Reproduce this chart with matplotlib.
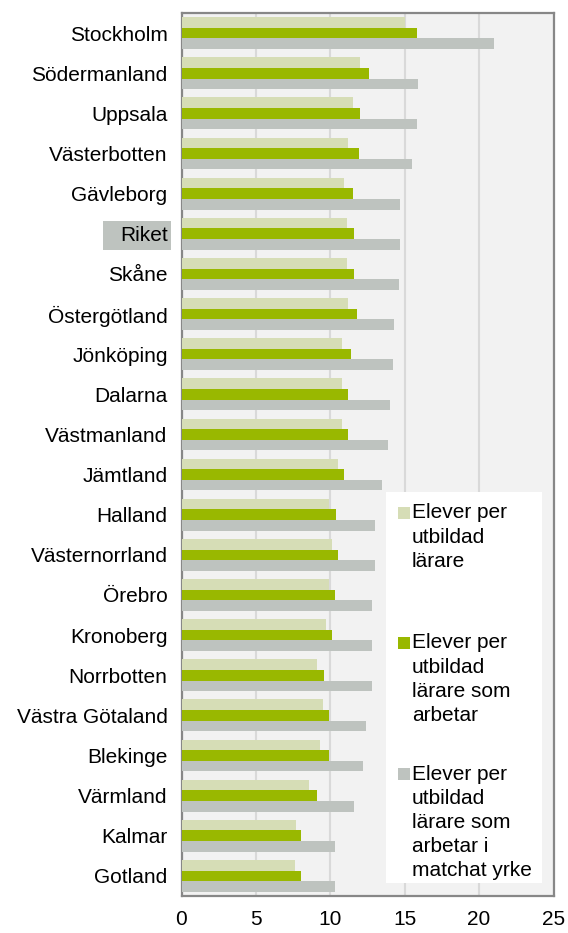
import matplotlib
matplotlib.use("Agg")
import matplotlib.pyplot as plt
from matplotlib.patches import Rectangle
import numpy as np

plt.rcParams['font.family'] = ['Liberation Sans', 'DejaVu Sans']
plt.rcParams['font.size'] = 15

regions = ["Stockholm", "Södermanland", "Uppsala", "Västerbotten", "Gävleborg",
           "Riket", "Skåne", "Östergötland", "Jönköping", "Dalarna",
           "Västmanland", "Jämtland", "Halland", "Västernorrland", "Örebro",
           "Kronoberg", "Norrbotten", "Västra Götaland", "Blekinge", "Värmland",
           "Kalmar", "Gotland"]
per_teacher = [15.0, 12.0, 11.5, 11.2, 10.9, 11.1, 11.1, 11.2, 10.8, 10.8, 10.8,
               10.5, 9.9, 10.1, 9.9, 9.7, 9.1, 9.5, 9.3, 8.6, 7.7, 7.6]
per_working = [15.8, 12.6, 12.0, 11.9, 11.5, 11.6, 11.6, 11.8, 11.4, 11.2, 11.2,
               10.9, 10.4, 10.5, 10.3, 10.1, 9.6, 9.9, 9.9, 9.1, 8.0, 8.0]
per_matched = [21.0, 15.9, 15.8, 15.5, 14.7, 14.7, 14.6, 14.3, 14.2, 14.0, 13.9,
               13.5, 13.0, 13.0, 12.8, 12.8, 12.8, 12.4, 12.2, 11.6, 10.3, 10.3]
series_names = ["Elever per\nutbildad\nlärare",
                "Elever per\nutbildad\nlärare som\narbetar",
                "Elever per\nutbildad\nlärare som\narbetar i\nmatchat yrke"]
xticks = [0, 5, 10, 15, 20, 25]

colors = ["#d6ddb6", "#99b800", "#bec3bf"]
W, H = 568, 933

fig = plt.figure(figsize=(W / 100, H / 100), dpi=100)
ax = fig.add_axes([181.5 / W, 1 - 896 / H, 372 / W, 883 / H])
ax.set_facecolor("#f2f2f2")

y = np.arange(len(regions))
h = 0.264
for i, vals in enumerate([per_teacher, per_working, per_matched]):
    ax.barh(y + (i - 1) * h, vals, height=h, color=colors[i], zorder=3)

ax.set_xlim(0, 25)
ax.set_ylim(len(regions) - 0.5, -0.5)
ax.set_xticks(xticks)
ax.set_xticklabels([str(t) for t in xticks])
ax.set_yticks(y)
ax.set_yticklabels(regions)
ax.tick_params(length=0, pad=10)
ax.grid(axis="x", color="#d9d9d9", linewidth=1.5, zorder=1)
for s in ax.spines.values():
    s.set_color("#878787")
    s.set_linewidth(1.6)

# gray box behind "Riket"
fig.patches.append(Rectangle((103 / W, 1 - 250 / H), 68 / W, 29 / H,
                             transform=fig.transFigure, facecolor="#bec3bf",
                             edgecolor="none", zorder=-1))

# legend drawn by hand to mimic Excel layout
def ax_xy(px, py):
    return (px - 181.5) / 372, (896 - py) / 883

x0, y0 = ax_xy(386, 883)
x1, y1 = ax_xy(542, 492)
ax.add_patch(Rectangle((x0, y0), x1 - x0, y1 - y0, transform=ax.transAxes,
                       facecolor="white", edgecolor="none", zorder=4))
first_line = [513, 643, 774]
for i, name in enumerate(series_names):
    mx, my = ax_xy(398, first_line[i] + 6)
    mw = 12 / 372
    mh = 12 / 883
    ax.add_patch(Rectangle((mx, my), mw, mh, transform=ax.transAxes,
                           facecolor=colors[i], edgecolor="none", zorder=5))
    for j, line in enumerate(name.split("\n")):
        tx, ty = ax_xy(412, first_line[i] + j * 24.2)
        ax.text(tx, ty, line, transform=ax.transAxes, va="center", ha="left",
                zorder=6)

fig.savefig("out.png", dpi=100)
